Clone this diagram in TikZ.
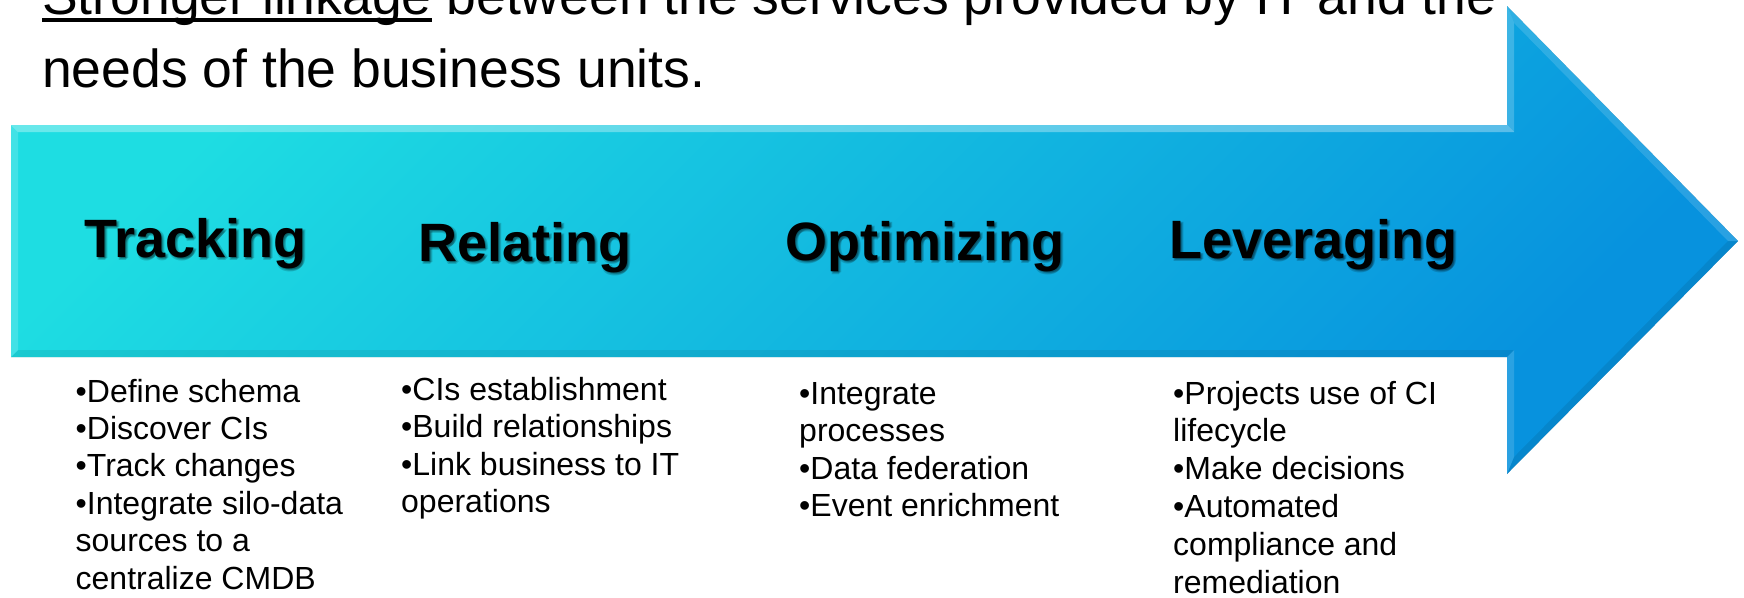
\documentclass[tikz,border=0pt]{standalone}
\usepackage{fontspec}
\setmainfont{Liberation Sans}
\definecolor{arrtop}{HTML}{1EDDE2}
\definecolor{arrmid}{HTML}{0EB8E6}
\definecolor{arrbot}{HTML}{0792DE}
\newcommand\myunderline[1]{\setbox0\hbox{#1}\rlap{\rule[-7.5pt]{\wd0}{3.8pt}}\box0\relax}
\newcommand\shadowcopy[3]{\rlap{\hspace{#1}\raisebox{#2}{\begin{pgfscope}\pgfsetfillopacity{0.16}#3\end{pgfscope}}}}
\newcommand\glowtext[1]{\shadowcopy{1pt}{-1.5pt}{#1}\shadowcopy{2.5pt}{-2.5pt}{#1}\shadowcopy{1.5pt}{-3.5pt}{#1}\shadowcopy{3pt}{-1pt}{#1}#1}
\begin{document}
\begin{tikzpicture}[x=1pt,y=-1pt,
  headtext/.style={anchor=base west,inner sep=0pt,font=\fontsize{54}{60}\selectfont\bfseries},
  bodytext/.style={anchor=base west,inner sep=0pt,font=\fontsize{32}{37.5}\selectfont},
  titletext/.style={anchor=base west,inner sep=0pt,font=\fontsize{53.5}{57}\selectfont},
  lightface/.style={fill=white,fill opacity=#1},
  darkface/.style={fill=black,fill opacity=#1}]
\useasboundingbox (0,0) rectangle (1744,597);
\clip (0,0) rectangle (1744,597);
\fill[white] (0,0) rectangle (1744,597);

% arrow outline points
\coordinate (A1) at (11,125);
\coordinate (A2) at (1507,125);
\coordinate (A3) at (1507,6);
\coordinate (A4) at (1738,241);
\coordinate (A5) at (1507,474);
\coordinate (A6) at (1507,357);
\coordinate (A7) at (11,357);
% inner bevel points
\coordinate (I1) at (18,132);
\coordinate (I2) at (1514,132);
\coordinate (I3) at (1514,23);
\coordinate (I4) at (1728,241);
\coordinate (I5) at (1514,457);
\coordinate (I6) at (1514,350);
\coordinate (I7) at (18,350);

% soft shadow
\foreach \s/\o in {1/0.10,2.5/0.08,4/0.06,5.5/0.04}
  \fill[black,fill opacity=\o,shift={(\s*0.6,\s)}] (A1) -- (A2) -- (A3) -- (A4) -- (A5) -- (A6) -- (A7) -- cycle;

% arrow body
\shade[top color=arrtop,middle color=arrmid,bottom color=arrbot,shading angle=45]
  (A1) -- (A2) -- (A3) -- (A4) -- (A5) -- (A6) -- (A7) -- cycle;

% bevel faces
\fill[lightface=0.33] (A1) -- (A2) -- (I2) -- (I1) -- cycle;
\fill[lightface=0.20] (A2) -- (A3) -- (I3) -- (I2) -- cycle;
\fill[lightface=0.14] (A3) -- (A4) -- (I4) -- (I3) -- cycle;
\fill[darkface=0.08] (A4) -- (A5) -- (I5) -- (I4) -- cycle;
\fill[lightface=0.14] (A5) -- (A6) -- (I6) -- (I5) -- cycle;
\fill[darkface=0.08] (A6) -- (A7) -- (I7) -- (I6) -- cycle;
\fill[lightface=0.16] (A7) -- (A1) -- (I1) -- (I7) -- cycle;

% title text
\node[titletext] (title1) at (42,14) {\myunderline{Stronger linkage} between the services provided by IT and the};
\node[titletext] (title2) at (42,87) {needs of the business units.};

% headings with soft shadow
\node[headtext] (trk) at (84,257) {\glowtext{Tracking}};
\node[headtext] (rel) at (418,261) {\glowtext{Relating}};
\node[headtext] (opt) at (785,260) {\glowtext{Optimizing}};
\node[headtext] (lev) at (1169,258) {\glowtext{Leveraging}};

% bullet columns
\foreach \t [count=\i from 0] in {{•Define schema},{•Discover CIs},{•Track changes},{•Integrate silo-data},{sources to a},{centralize CMDB}}
  \node[bodytext,name=colA-\i] at (75.5,{402+\i*37.4}) {\t};
\foreach \t [count=\i from 0] in {{•CIs establishment},{•Build relationships},{•Link business to IT},{operations}}
  \node[bodytext,name=colB-\i] at (401,{400+\i*37.6}) {\t};
\foreach \t [count=\i from 0] in {{•Integrate},{processes},{•Data federation},{•Event enrichment}}
  \node[bodytext,name=colC-\i] at (799,{404+\i*37.5}) {\t};
\foreach \t [count=\i from 0] in {{•Projects use of CI},{lifecycle},{•Make decisions},{•Automated},{compliance and},{remediation}}
  \node[bodytext,name=colD-\i] at (1173,{404+\i*37.9}) {\t};
\end{tikzpicture}
\end{document}
